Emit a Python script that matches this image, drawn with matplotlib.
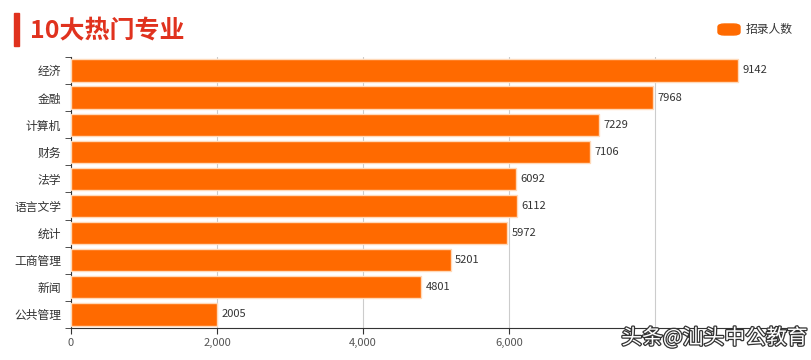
import matplotlib.pyplot as plt
import matplotlib.patheffects as pe
from matplotlib.patches import FancyBboxPatch, Rectangle

plt.rcParams['font.family'] = ['Noto Sans CJK SC', 'DejaVu Sans']

majors = ["经济", "金融", "计算机", "财务", "法学", "语言文学", "统计", "工商管理", "新闻", "公共管理"]
counts = [9142, 7968, 7229, 7106, 6092, 6112, 5972, 5201, 4801, 2005]
xticks = [0, 2000, 4000, 6000, 8000]
xtick_labels = ["0", "2,000", "4,000", "6,000", ""]

bar_color = "#FF6A00"
title_color = "#E0321E"

fig = plt.figure(figsize=(8.12, 3.6), dpi=100)
ax = fig.add_axes([0.0874, 0.089, 0.899, 0.753])

y = list(range(len(majors)))
ax.barh(y, counts, height=0.82, color=bar_color, edgecolor="#FFD9B8", linewidth=1.0, zorder=3)
for yi, v in zip(y, counts):
    ax.text(v + 60, yi, str(v), va="center", ha="left", fontsize=8, color="#333333")

ax.set_ylim(len(majors) - 0.5, -0.5)
ax.set_xlim(0, 10000)
ax.set_yticks(y)
ax.set_yticklabels(majors, fontsize=8.5, color="#333333")
ax.set_yticks([i + 0.5 for i in range(-1, len(majors))], minor=True)
ax.tick_params(axis="y", which="major", length=0, pad=7)
ax.tick_params(axis="y", which="minor", length=4, color="#333333")
ax.set_xticks(xticks)
ax.set_xticklabels(xtick_labels, fontsize=8, color="#555555")
ax.tick_params(axis="x", length=4, color="#333333", pad=3)
ax.grid(axis="x", color="#CCCCCC", linewidth=0.8, zorder=0)

for s in ["top", "right"]:
    ax.spines[s].set_visible(False)
ax.spines["left"].set_color("#333333")
ax.spines["bottom"].set_color("#333333")

# title
fig.patches.append(Rectangle((14 / 812, 1 - 46 / 360), 5 / 812, 33 / 360,
                             transform=fig.transFigure, color=title_color))
fig.text(30 / 812, 1 - 31 / 360, "10大热门专业", fontsize=18, fontweight="bold",
         color=title_color, va="center", ha="left")

# legend
fig.patches.append(FancyBboxPatch((718 / 812, 1 - 35 / 360), 22 / 812, 11 / 360,
                                  boxstyle="round,pad=0,rounding_size=0.008",
                                  transform=fig.transFigure, color=bar_color))
fig.text(746 / 812, 1 - 29 / 360, "招录人数", fontsize=8.5, color="#333333", va="center")

# watermark
fig.text(808 / 812, 1 - 338 / 360, "头条@汕头中公教育", fontsize=15, color="white",
         ha="right", va="center",
         path_effects=[pe.withStroke(linewidth=1.8, foreground="#333333")])

fig.savefig("out.png", dpi=100)
